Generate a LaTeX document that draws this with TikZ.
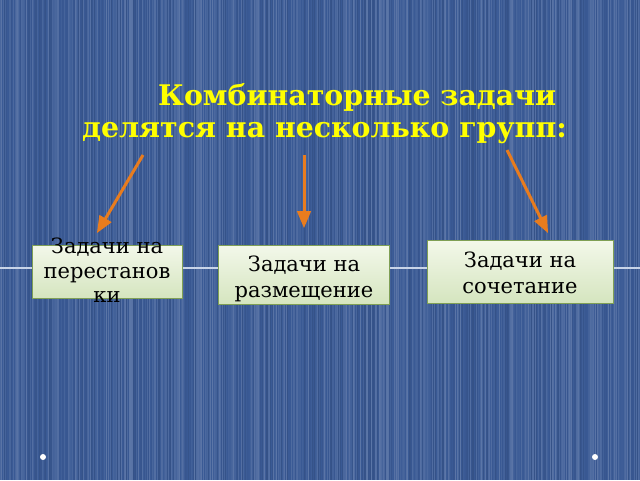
\documentclass[tikz,border=0pt]{standalone}
\usepackage{fontspec}
\setmainfont{DejaVu Serif}
\usetikzlibrary{arrows,shapes}
\definecolor{bgblue}{HTML}{3A5A95}
\definecolor{titleyellow}{HTML}{FFFF00}
\definecolor{arroworange}{HTML}{E87C1E}
\definecolor{boxtop}{HTML}{F3F8EA}
\definecolor{boxbottom}{HTML}{D5E5BF}
\definecolor{boxedge}{HTML}{7F9F55}
\definecolor{rulegray}{HTML}{C8D4E8}

\begin{document}
\begin{tikzpicture}[x=1pt,y=-1pt,
    roundnode/.style={circle, fill=white, inner sep=0pt, minimum size=6pt},
    titletext/.style={font=\fontsize{28.4}{32}\selectfont\bfseries, text=titleyellow, inner sep=0pt},
    taskbox/.style={draw=boxedge, line width=1pt, top color=boxtop, bottom color=boxbottom, inner sep=0pt, font=\fontsize{21}{26}\selectfont},
    grouparrow/.style={draw=arroworange, line width=3pt, -triangle 45}]

    \useasboundingbox (0,0) rectangle (640,480);

    % striped background
    \pgfmathsetseed{11}
    \foreach \i in {0,...,639}{
        \pgfmathtruncatemacro\shade{rnd*28-10}
        \ifnum\shade<0
            \pgfmathtruncatemacro\shade{-\shade}\def\stripe{black!\shade!bgblue}
        \else
            \def\stripe{white!\shade!bgblue}
        \fi
        \fill[color=\stripe] (\i,0) rectangle (\i+1,480);
    }

    \draw[rulegray, line width=1.2pt] (0,268) -- (640,268);

    \node[titletext, anchor=base west] (title1) at (158,105) {Комбинаторные задачи};
    \node[titletext, anchor=base west] (title2) at (82,137) {делятся на несколько групп:};

    \node[taskbox, minimum width=150, minimum height=53, font=\fontsize{21}{24.5}\selectfont] (perm) at (107,271.5)
        {\smash{\raisebox{-7pt}{\begin{tabular}{@{}c@{}}Задачи на\\перестанов\\ки\end{tabular}}}};
    \node[taskbox, minimum width=171, minimum height=59] (place) at (304,274.5)
        {\smash{\raisebox{-10pt}{\begin{tabular}{@{}c@{}}Задачи на\\размещение\end{tabular}}}};
    \node[taskbox, minimum width=186, minimum height=63] (comb) at (520,271.5)
        {\smash{\raisebox{-8.5pt}{\begin{tabular}{@{}c@{}}Задачи на\\сочетание\end{tabular}}}};

    \coordinate (a1) at (143,155);
    \coordinate (b1) at (97,233);
    \coordinate (a2) at (304,155);
    \coordinate (b2) at (304,228);
    \coordinate (a3) at (507,150);
    \coordinate (b3) at (548,233);
    \draw[grouparrow] (a1) -- (b1);
    \draw[grouparrow] (a2) -- (b2);
    \draw[grouparrow] (a3) -- (b3);

    \node[roundnode] (dotl) at (43,457) {};
    \node[roundnode] (dotr) at (595,457) {};

\end{tikzpicture}
\end{document}
